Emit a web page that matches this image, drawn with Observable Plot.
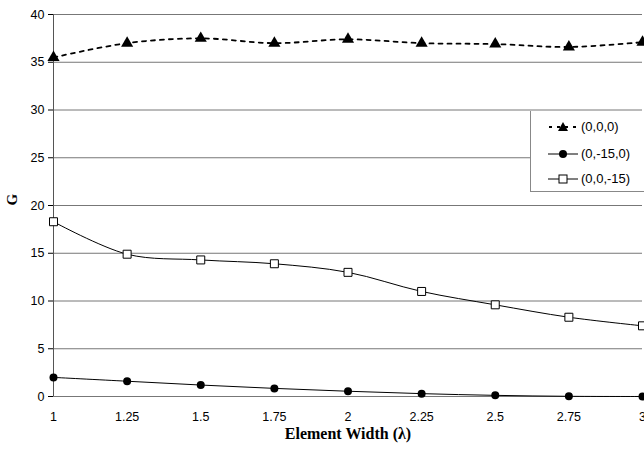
<!DOCTYPE html>
<html><head><meta charset="utf-8">
<script src="https://cdn.jsdelivr.net/npm/d3@7"></script>
<script src="https://cdn.jsdelivr.net/npm/@observablehq/plot@0.6"></script>
<style>
body{margin:0;background:#fff;}
#wrap{position:relative;width:644px;height:450px;}
#legend{position:absolute;left:530px;top:111px;width:120px;height:80px;border-left:1px solid #888;border-bottom:1px solid #888;background:#fff;font-family:"Liberation Sans",Arial,sans-serif;font-size:13px;}
.row{position:absolute;left:17px;display:flex;align-items:center;}
.row span{margin-left:3px;}
</style>
</head><body>
<div id="wrap"><div id="chart"></div><div id="legend"></div></div>
<script>
const widths = [1, 1.25, 1.5, 1.75, 2, 2.25, 2.5, 2.75, 3];
const s000 = [35.5, 37.0, 37.5, 37.0, 37.4, 37.0, 36.9, 36.6, 37.1];
const s0m150 = [2.0, 1.6, 1.2, 0.85, 0.55, 0.3, 0.12, 0.02, 0.0];
const s00m15 = [18.3, 14.9, 14.3, 13.9, 13.0, 11.0, 9.6, 8.3, 7.4];
const seriesNames = ["(0,0,0)", "(0,-15,0)", "(0,0,-15)"];
const xTicks = [1, 1.25, 1.5, 1.75, 2, 2.25, 2.5, 2.75, 3];
const yTicks = [0, 5, 10, 15, 20, 25, 30, 35, 40];

const d1 = widths.map((w,i)=>({x:w,y:s000[i]}));
const d2 = widths.map((w,i)=>({x:w,y:s0m150[i]}));
const d3_ = widths.map((w,i)=>({x:w,y:s00m15[i]}));

const chart = Plot.plot({
  width: 644, height: 450,
  marginLeft: 53, marginRight: 2, marginTop: 14, marginBottom: 54,
  style: {fontFamily: "'Liberation Sans', Arial, sans-serif", fontSize: "12.5px", color: "#000", background: "#fff"},
  x: {domain: [1, 3], ticks: xTicks, tickFormat: d => String(d), label: null, tickSize: 0, tickPadding: 16},
  y: {domain: [0, 40], ticks: yTicks, label: null, tickSize: 5, tickPadding: 4},
  marks: [
    Plot.ruleY(yTicks, {stroke: "#777", strokeWidth: 1}),
    Plot.ruleX([1], {stroke: "#555", strokeWidth: 1}),
    Plot.line(d1, {x: "x", y: "y", curve: "catmull-rom", stroke: "#000", strokeWidth: 1.8, strokeDasharray: "4,5"}),
    Plot.dot(d1, {x: "x", y: "y", symbol: "triangle", fill: "#000", r: 4.5}),
    Plot.line(d2, {x: "x", y: "y", curve: "catmull-rom", stroke: "#000", strokeWidth: 1}),
    Plot.dot(d2, {x: "x", y: "y", symbol: "circle", fill: "#000", r: 4}),
    Plot.line(d3_, {x: "x", y: "y", curve: "catmull-rom", stroke: "#000", strokeWidth: 1}),
    Plot.dot(d3_, {x: "x", y: "y", symbol: "square", fill: "#fff", stroke: "#000", strokeWidth: 1, r: 4.5}),
    Plot.text(["Element Width (λ)"], {frameAnchor: "bottom", dy: 42, fontFamily: "'Liberation Serif', 'Times New Roman', serif", fontWeight: "bold", fontSize: 16}),
    Plot.text(["G"], {frameAnchor: "left", dx: -41, rotate: -90, fontFamily: "'Liberation Serif', 'Times New Roman', serif", fontWeight: "bold", fontSize: 15})
  ]
});
document.getElementById("chart").appendChild(chart);

const legendRows = [
  {name: seriesNames[0], svg: '<svg width="30" height="12"><line x1="1" y1="6" x2="29" y2="6" stroke="#000" stroke-width="2" stroke-dasharray="3,5"/><path d="M15,1 L20,10 L10,10 Z" fill="#000"/></svg>', top: 8},
  {name: seriesNames[1], svg: '<svg width="30" height="12"><line x1="0" y1="6" x2="30" y2="6" stroke="#000" stroke-width="1"/><circle cx="15" cy="6" r="4" fill="#000"/></svg>', top: 35},
  {name: seriesNames[2], svg: '<svg width="30" height="12"><line x1="0" y1="6" x2="30" y2="6" stroke="#000" stroke-width="1"/><rect x="11" y="2" width="8" height="8" fill="#fff" stroke="#000"/></svg>', top: 60}
];
const lg = document.getElementById("legend");
legendRows.forEach(r => {
  const div = document.createElement("div");
  div.className = "row";
  div.style.top = r.top + "px";
  div.innerHTML = r.svg + "<span>" + r.name + "</span>";
  lg.appendChild(div);
});
</script>
</body></html>
